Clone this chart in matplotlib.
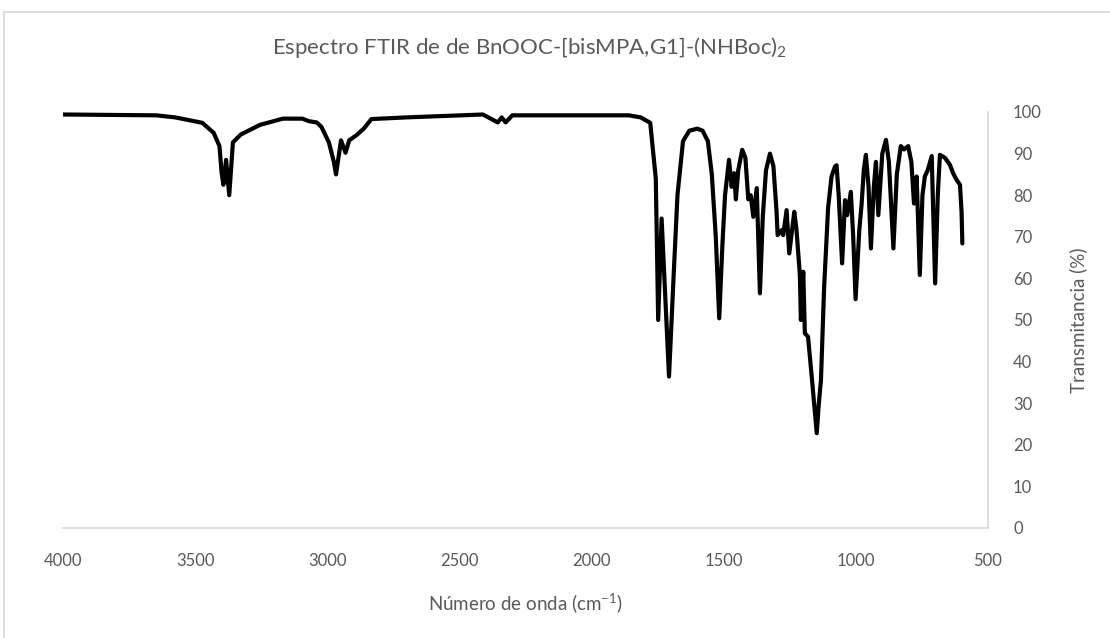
import matplotlib
matplotlib.use("Agg")
import matplotlib.pyplot as plt
from matplotlib.lines import Line2D

plt.rcParams['font.family'] = ['Lato', 'DejaVu Sans']
plt.rcParams['mathtext.fontset'] = 'custom'
plt.rcParams['mathtext.rm'] = 'Lato'
plt.rcParams['mathtext.default'] = 'regular'

# wavenumber (cm-1) and transmittance (%)
wavenumber = [
    4000, 3648, 3575, 3473, 3430, 3408, 3400, 3393, 3383, 3371, 3357, 3327,
    3255, 3168, 3094, 3070, 3040, 3022, 2994, 2975, 2967, 2948, 2931, 2917,
    2890, 2862, 2833, 2702, 2411, 2355, 2340, 2325, 2300, 1859, 1814, 1778,
    1757, 1748, 1735, 1707, 1690, 1675, 1654, 1630, 1600, 1580, 1560, 1545,
    1530, 1517, 1505, 1495, 1480, 1470, 1461, 1454, 1445, 1430, 1418, 1407,
    1398, 1388, 1375, 1363, 1352, 1340, 1325, 1312, 1300, 1296, 1281, 1275,
    1262, 1252, 1233, 1225, 1212, 1208, 1199, 1193, 1181, 1165, 1148, 1140,
    1132, 1120, 1105, 1092, 1079, 1073, 1065, 1052, 1041, 1033, 1019, 1010,
    1001, 987, 978, 970, 962, 952, 943, 932, 924, 915, 900, 886,
    875, 858, 845, 830, 818, 802, 790, 780, 770, 758, 748, 739,
    728, 713, 700, 690, 682, 663, 644, 632, 619, 606, 600, 597,
]
transmittance = [
    99.4, 99.2, 98.7, 97.4, 95.0, 91.8, 85.5, 82.5, 88.5, 80.0, 92.7, 94.6,
    96.9, 98.4, 98.4, 97.8, 97.5, 96.4, 92.7, 88.0, 85.0, 93.2, 90.2, 93.2,
    94.4, 96.0, 98.3, 98.7, 99.4, 97.5, 98.7, 97.5, 99.2, 99.2, 98.7, 97.4,
    84.0, 50.0, 74.4, 36.4, 60.0, 80.0, 93.0, 95.5, 96.0, 95.5, 93.0, 85.0,
    70.0, 50.4, 68.0, 80.0, 88.5, 82.0, 85.3, 79.0, 86.0, 90.9, 89.0, 79.0,
    80.0, 74.8, 81.7, 56.4, 75.0, 86.0, 90.0, 87.0, 76.0, 70.4, 71.6, 70.4,
    76.4, 66.0, 76.0, 72.0, 61.0, 50.0, 61.6, 46.8, 46.0, 35.0, 22.8, 30.0,
    35.6, 58.0, 77.0, 84.5, 86.9, 87.2, 80.0, 63.6, 78.8, 75.2, 80.8, 70.0,
    55.0, 71.6, 78.0, 86.0, 89.7, 82.0, 67.2, 82.0, 88.0, 75.2, 90.0, 93.3,
    88.0, 67.2, 85.0, 91.8, 91.0, 91.8, 88.0, 78.0, 84.5, 60.8, 80.0, 84.5,
    86.0, 89.4, 58.8, 80.0, 89.7, 89.0, 87.3, 85.3, 83.7, 82.5, 76.0, 68.4,
]

x_ticks = [4000, 3500, 3000, 2500, 2000, 1500, 1000, 500]
y_ticks = [0, 10, 20, 30, 40, 50, 60, 70, 80, 90, 100]

grey_txt = '#595959'
grey_line = '#D9D9D9'

fig = plt.figure(figsize=(11.1, 6.38), dpi=100)
ax = fig.add_axes([63/1110, 110/638, (988-63)/1110, (528-112)/638])

ax.plot(wavenumber, transmittance, color='black', lw=3.0,
        solid_joinstyle='round', solid_capstyle='round')

ax.set_xlim(4000, 500)
ax.set_ylim(0, 100)
ax.set_xticks(x_ticks)
ax.set_yticks(y_ticks)

ax.yaxis.tick_right()
ax.yaxis.set_label_position('right')
ax.tick_params(axis='both', length=0, labelsize=12, colors=grey_txt)
ax.tick_params(axis='x', pad=18)
ax.tick_params(axis='y', pad=18)
for lab in ax.get_yticklabels():
    lab.set_horizontalalignment('left')

for side in ['top', 'left']:
    ax.spines[side].set_visible(False)
for side in ['bottom', 'right']:
    ax.spines[side].set_color(grey_line)
    ax.spines[side].set_linewidth(1.2)

ax.set_xlabel('Número de onda (cm$^{-1}$)', fontsize=13.5, color=grey_txt, labelpad=16)
ax.set_ylabel('Transmitancia (%)', fontsize=13.5, color=grey_txt, labelpad=20)

fig.text(530/1110, 1 - 47/638, 'Espectro FTIR de de BnOOC-[bisMPA,G1]-(NHBoc)$_2$',
         ha='center', va='center', fontsize=16, color=grey_txt)

# chart area border (top and left edges visible)
fig.add_artist(Line2D([4/1110, 1], [1 - 12/638, 1 - 12/638], color=grey_line, lw=1.2))
fig.add_artist(Line2D([4/1110, 4/1110], [0, 1 - 12/638], color=grey_line, lw=1.2))

fig.savefig('out.png', dpi=100)
